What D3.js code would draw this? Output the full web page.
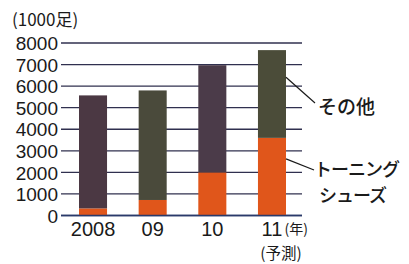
<!DOCTYPE html>
<html><head><meta charset="utf-8">
<script src="https://cdn.jsdelivr.net/npm/d3@7"></script>
<style>
html,body{margin:0;padding:0;background:#fff;}
svg{display:block;}
</style></head>
<body><svg id="c" width="409" height="264"></svg>
<script>
const years = ["2008", "09", "10", "11"];
const toning = [330, 720, 2000, 3600];
const other = [5240, 5080, 4970, 4070];
const yTicks = [0, 1000, 2000, 3000, 4000, 5000, 6000, 7000, 8000];
const unitLabel = "(1000足)";
const yearSuffix = "(年)";
const forecastLabel = "(予測)";
const seriesNames = ["その他", "トーニング", "シューズ"];

const otherColors = ["#4b3843", "#4a4a3b", "#4b3b49", "#4b4c39"];
const orange = "#e0561b";

const svg = d3.select("#c");
const y = d3.scaleLinear().domain([0, 8000]).range([215.5, 43]);
const x = d3.scaleBand().domain(years).range([79, 286]).paddingInner(0.53).paddingOuter(0);

const numFont = "'Liberation Sans', Arial, sans-serif";
const jpFont = "'Noto Sans CJK JP', sans-serif";

// y axis labels
const yAxis = d3.axisLeft(y).tickValues(yTicks).tickSize(0).tickPadding(0).tickFormat(d3.format("d"));
const gAxis = svg.append("g").attr("transform", "translate(59,0)").call(yAxis);
gAxis.select(".domain").remove();
gAxis.selectAll("text").attr("font-family", numFont).attr("font-size", 19).attr("fill", "#1a1a1a").attr("x", -1).attr("dy", "0.35em");

// gridlines
svg.append("g").selectAll("line").data(yTicks).join("line")
  .attr("x1", 61).attr("x2", 302)
  .attr("y1", d => y(d)).attr("y2", d => y(d))
  .attr("stroke", d => d === 0 ? "#2a3a6a" : "#30304f").attr("stroke-width", 1.3);

// stacked bars
const stackData = years.map((yr, i) => ({year: yr, toning: toning[i], other: other[i], idx: i}));
const stack = d3.stack().keys(["toning", "other"])(stackData);
svg.append("g").selectAll("g").data(stack).join("g")
  .selectAll("rect").data(s => s.map(d => ({s: s.key, d})))
  .join("rect")
  .attr("x", o => x(o.d.data.year))
  .attr("width", x.bandwidth())
  .attr("y", o => y(o.d[1]))
  .attr("height", o => y(o.d[0]) - y(o.d[1]))
  .attr("fill", o => o.s === "toning" ? orange : otherColors[o.d.data.idx]);

// zero line on top
svg.append("line").attr("x1", 61).attr("x2", 302).attr("y1", y(0)).attr("y2", y(0))
  .attr("stroke", "#2a3a6a").attr("stroke-width", 1.3);

// x labels
const xl = svg.append("g");
years.forEach((yr) => {
  xl.append("text").attr("x", x(yr) + x.bandwidth() / 2).attr("y", 236)
    .attr("text-anchor", "middle").attr("font-family", numFont).attr("font-size", 20)
    .attr("fill", "#1a1a1a").text(yr);
});
xl.append("text").attr("x", x("11") + x.bandwidth() / 2 + 12.5).attr("y", 234)
  .attr("font-family", jpFont).attr("font-size", 14).attr("fill", "#1a1a1a").text(yearSuffix);
xl.append("text").attr("x", x("11") + x.bandwidth() / 2 + 9).attr("y", 259)
  .attr("text-anchor", "middle").attr("font-family", jpFont).attr("font-size", 15.5).attr("fill", "#1a1a1a").text(forecastLabel);

// unit label
svg.append("text").attr("x", 12).attr("y", 26).attr("font-family", jpFont).attr("font-size", 17)
  .attr("fill", "#1a1a1a").text(unitLabel);

// annotations
const last = stackData[3];
const xr = x("11") + x.bandwidth();
svg.append("line").attr("x1", xr).attr("y1", y(last.toning + last.other * 0.69))
  .attr("x2", 315).attr("y2", 103).attr("stroke", "#1a1a1a").attr("stroke-width", 1.2);
svg.append("line").attr("x1", xr).attr("y1", y(last.toning * 0.73))
  .attr("x2", 314).attr("y2", 170).attr("stroke", "#1a1a1a").attr("stroke-width", 1.2);
svg.append("text").attr("x", 318).attr("y", 114).attr("font-family", jpFont).attr("font-weight", 500)
  .attr("font-size", 19).attr("fill", "#1a1a1a").text(seriesNames[0]);
svg.append("text").attr("x", 314).attr("y", 176).attr("font-family", jpFont).attr("font-weight", 500)
  .attr("font-size", 18).attr("letter-spacing", -1).attr("fill", "#1a1a1a").text(seriesNames[1]);
svg.append("text").attr("x", 319).attr("y", 202).attr("font-family", jpFont).attr("font-weight", 500)
  .attr("font-size", 18).attr("letter-spacing", -1).attr("fill", "#1a1a1a").text(seriesNames[2]);
</script>
</body></html>
